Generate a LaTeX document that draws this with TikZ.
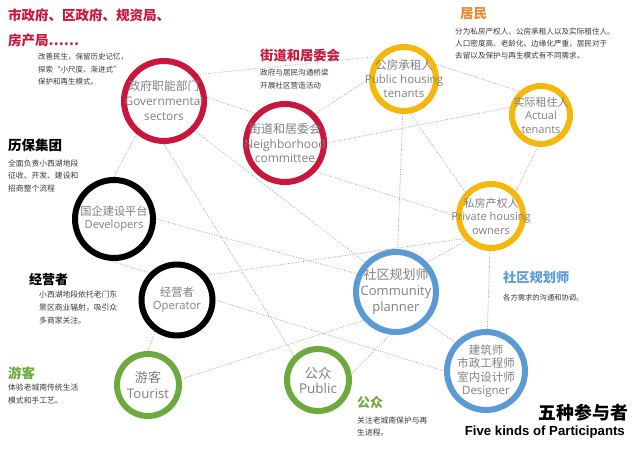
\documentclass[tikz,border=0pt]{standalone}
\usepackage{fontspec}
\setmainfont{Noto Sans CJK SC}
\newfontfamily\cjk{Noto Sans CJK SC}
\newfontfamily\en{Open Sans}
\newfontfamily\arialfont{Liberation Sans}
\usepackage{tikz}
\usetikzlibrary{backgrounds}
\definecolor{govred}{HTML}{C8163C}
\definecolor{resyellow}{HTML}{F5B70A}
\definecolor{resorange}{HTML}{EE8A32}
\definecolor{grngreen}{HTML}{6CAA3E}
\definecolor{plnblue}{HTML}{5B9BD5}
\definecolor{labelgray}{HTML}{808080}
\definecolor{bodygray}{HTML}{383838}
\tikzstyle{ring}=[circle,line width=6pt,fill=white,inner sep=0pt]
\tikzstyle{lbl}=[text=labelgray,align=center,inner sep=0pt]
\tikzstyle{link}=[draw=gray!70,line width=0.8pt,dash pattern=on 0.9pt off 1.6pt]
\tikzstyle{head}=[anchor=west,inner sep=0pt,align=left]
\tikzstyle{note}=[anchor=west,inner sep=0pt,align=left,text=bodygray]

\begin{document}
\begin{tikzpicture}[x=1pt,y=-1pt]
    \useasboundingbox (0,0) rectangle (640,449);

    % the participants
    \foreach \pos/\name/\col/\dia/\fs/\bs/\txt in {
        {(164,101)/gov/govred/80/11.8/15/{\cjk 政府职能部门}\\Governmental\\sectors},
        {(285,143)/nbh/govred/78/12/14.5/{\cjk 街道和居委会}\\Neighborhood\\committee},
        {(404,79)/pht/resyellow/64/11.5/14/{\cjk 公房承租人}\\Public housing\\tenants},
        {(541,115)/act/resyellow/58/11/13.5/{\cjk 实际租住人}\\Actual\\tenants},
        {(491,216)/pri/resyellow/64/11/13.5/{\cjk 私房产权人}\\Private housing\\owners},
        {(114,219)/dev/black/78/11.2/13/{\cjk 国企建设平台}\\Developers},
        {(177,300)/op/black/71/11.3/13/{\cjk 经营者}\\Operator},
        {(148,385)/tou/grngreen/62/13.2/16/{\cjk 游客}\\Tourist},
        {(318,380)/pub/grngreen/62/13.5/15/{\cjk 公众}\\Public},
        {(396,292)/cp/plnblue/80/13/16/{\cjk 社区规划师}\\Community\\planner},
        {(486,371)/des/plnblue/78/11.5/13.3/{\cjk 建筑师}\\{\cjk 市政工程师}\\{\cjk 室内设计师}\\Designer}}
    {
        \node[ring,draw=\col,minimum size=\dia] (\name) at \pos {};
        \node[lbl,font=\fontsize{\fs}{\bs}\selectfont\en] (\name-l) at (\name) {\txt};
    }

    \begin{scope}[on background layer]
    \foreach \source/\dest in {gov.38/pht.140, gov.5/nbh.135, gov.230/dev.north,
        gov.270/pub.135, gov.-44/cp.136, nbh.44/pht.west, nbh.east/act.166,
        nbh.-43/pri.west, pht.25/act.132, pht.-80/pri.137, pht/cp,
        act.265/pri.45, pri.224/cp.43, pri/des, dev.east/cp.155,
        dev.265/op.135, op.40/pri.220, op.east/des.west, op.235/tou.north,
        tou.10/cp.221, cp.262/pub.10, cp.-45/des.137}
        \path[link] (\source) -- (\dest);
    \end{scope}

    % titles and notes
    \node[head,text=govred,font=\fontsize{13.5}{25}\selectfont\bfseries] (govt) at (8,27.5)
        {市政府、区政府、规资局、\\房产局……};
    \node[note,font=\fontsize{7.5}{12.5}\selectfont] (govn) at (38,69.5)
        {改善民生，保留历史记忆，\\探索“小尺度、渐进式”\\保护和再生模式。};
    \node[head,text=govred,font=\fontsize{13.3}{16}\selectfont\bfseries] (nbht) at (260,55) {街道和居委会};
    \node[note,font=\fontsize{7.6}{12.5}\selectfont] (nbhn) at (260,79)
        {政府与居民沟通桥梁\\开展社区营造活动};
    \node[head,text=resorange,font=\fontsize{13.5}{16}\selectfont\bfseries] (rest) at (460,14) {居民};
    \node[note,font=\fontsize{7.6}{12}\selectfont] (resn) at (455,44)
        {分为私房产权人、公房承租人以及实际租住人。\\人口密度高、老龄化、边缘化严重，居民对于\\去留以及保护与再生模式有不同需求。};
    \node[head,font=\fontsize{13.5}{16}\selectfont\bfseries] (devt) at (8,145) {历保集团};
    \node[note,font=\fontsize{7.8}{12.7}\selectfont] (devn) at (8,175.7)
        {全面负责小西湖地段\\征收、开发、建设和\\招商整个流程};
    \node[head,font=\fontsize{13}{16}\selectfont\bfseries] (opt) at (29,280) {经营者};
    \node[note,font=\fontsize{7.8}{13}\selectfont] (opn) at (39,308)
        {小西湖地段依托老门东\\景区商业辐射，吸引众\\多商家关注。};
    \node[head,text=grngreen,font=\fontsize{13.5}{16}\selectfont\bfseries] (tout) at (8,373) {游客};
    \node[note,font=\fontsize{7.8}{12.5}\selectfont] (toun) at (8,394)
        {体验老城南传统生活\\模式和手工艺。};
    \node[head,text=grngreen,font=\fontsize{13}{16}\selectfont\bfseries] (pubt) at (357,403) {公众};
    \node[note,font=\fontsize{7.8}{12}\selectfont] (pubn) at (357,427)
        {关注老城南保护与再\\生进程。};
    \node[head,text=plnblue,font=\fontsize{13.2}{16}\selectfont\bfseries] (cpt) at (503,277) {社区规划师};
    \node[note,font=\fontsize{7.3}{12}\selectfont] (cpn) at (503,298) {各方需求的沟通和协调。};

    \node[anchor=east,inner sep=0pt,font=\fontsize{17.8}{20}\selectfont\bfseries] (kindcn) at (628,413) {五种参与者};
    \node[anchor=east,inner sep=0pt,font=\fontsize{13.2}{15}\selectfont\arialfont\bfseries] (kinden) at (625,432)
        {Five kinds of Participants};
\end{tikzpicture}
\end{document}
